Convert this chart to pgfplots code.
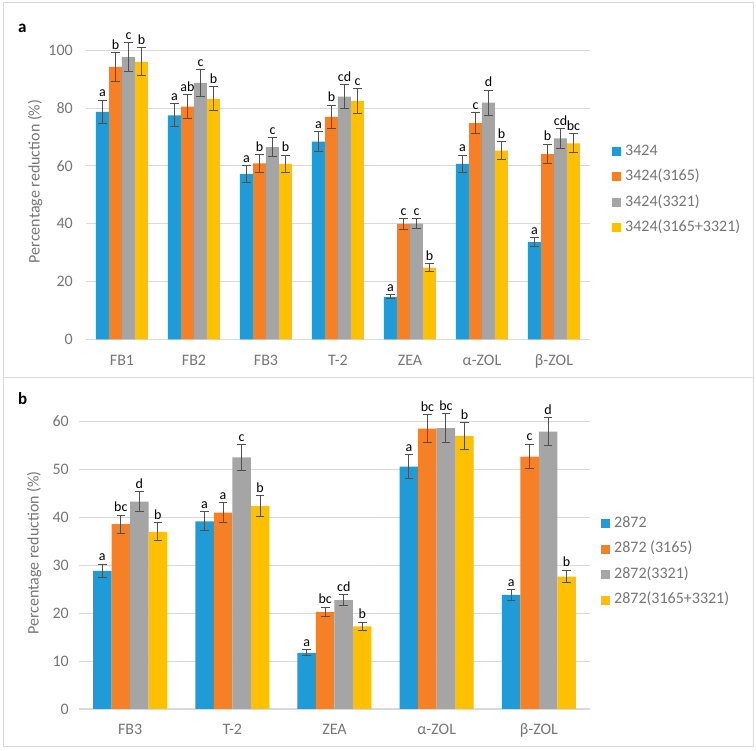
\documentclass[border=0pt]{standalone}
\usepackage{pgfplots}
\pgfplotsset{compat=1.18}
\usepackage{pgfplotstable}
\usepackage{fontspec}
\setmainfont{Carlito}
\definecolor{cblue}{RGB}{31,155,215}
\definecolor{corange}{RGB}{245,128,37}
\definecolor{cgray}{RGB}{165,165,165}
\definecolor{cyellow}{RGB}{255,192,0}
\definecolor{textgray}{RGB}{118,118,118}
\definecolor{gridgray}{RGB}{217,217,217}
\definecolor{errgray}{RGB}{80,80,80}

\pgfplotstableread{
x y e lab
0 78.7 4.0 a
1 77.5 4.0 a
2 57.2 3.0 a
3 68.4 3.4 a
4 14.7 0.7 a
5 60.7 3.0 a
6 33.6 1.6 a
}\aA
\pgfplotstableread{
x y e lab
0 94.3 5.0 b
1 80.5 4.1 ab
2 60.9 3.1 b
3 77.0 4.0 b
4 39.9 1.8 c
5 74.8 3.7 c
6 64.1 3.4 b
}\aB
\pgfplotstableread{
x y e lab
0 97.6 5.0 c
1 88.7 4.6 c
2 66.5 3.3 c
3 84.0 4.2 cd
4 40.0 1.8 c
5 81.9 4.3 d
6 69.5 3.5 cd
}\aC
\pgfplotstableread{
x y e lab
0 96.0 4.8 b
1 83.2 4.1 b
2 60.7 3.0 b
3 82.5 4.2 c
4 24.8 1.3 b
5 65.3 3.1 b
6 67.8 3.3 bc
}\aD

\pgfplotstableread{
x y e lab
0 28.8 1.4 a
1 39.1 2.0 a
2 11.7 0.6 a
3 50.5 2.5 a
4 23.75 1.1 a
}\bA
\pgfplotstableread{
x y e lab
0 38.5 1.9 bc
1 40.9 2.1 a
2 20.2 1.0 bc
3 58.4 2.9 bc
4 52.6 2.6 c
}\bB
\pgfplotstableread{
x y e lab
0 43.2 2.1 d
1 52.4 2.7 c
2 22.7 1.1 cd
3 58.5 3.0 bc
4 57.8 2.9 d
}\bC
\pgfplotstableread{
x y e lab
0 36.9 1.9 b
1 42.3 2.1 b
2 17.2 0.9 b
3 56.9 2.8 b
4 27.6 1.3 b
}\bD

\newcommand{\ls}{\hspace{3pt}}

\pgfplotsset{
  legsq/.style={legend image code/.code={\fill[##1,draw=none] (0pt,-4.5pt) rectangle (9pt,4.5pt);}},
  common/.style={
    scale only axis, clip=false,
    ybar=0pt,
    ymin=0,
    axis lines*=left,
    y axis line style={draw=none},
    x axis line style={draw=gridgray, line width=1pt},
    ymajorgrids,
    grid style={gridgray, line width=0.8pt},
    major tick length=0pt,
    tick label style={color=textgray, font=\fontsize{16}{19}\selectfont},
    /pgf/number format/assume math mode=true,
    xticklabel style={anchor=base, inner sep=0pt, yshift=-26pt},
    error bars/y dir=both,
    error bars/y explicit,
    error bars/error bar style={color=errgray, line width=1pt},
    error bars/error mark options={rotate=90, mark size=4.3pt, color=errgray, line width=1pt},
    nodes near coords,
    point meta=explicit symbolic,
    visualization depends on={\thisrow{e} \as \myerr},
    legend style={draw=none, fill=none, inner sep=0pt, font=\fontsize{16}{19}\selectfont, text=textgray, nodes={inner sep=1pt, text height=15.5pt, text depth=8pt}},
    legend cell align=left,
  }
}

\begin{document}
\begin{tikzpicture}[x=1pt,y=1pt]
\fill[white] (0,0) rectangle (756,751);
\draw[gridgray, line width=1pt] (3,748) rectangle (753,373);
\draw[gridgray, line width=1pt] (3,373) rectangle (753,4);
\node[anchor=base west, inner sep=0pt, font=\fontsize{17}{20}\selectfont\bfseries] at (18,718) {a};
\node[anchor=base west, inner sep=0pt, font=\fontsize{17}{20}\selectfont\bfseries] at (18,346) {b};

\begin{axis}[common,
  at={(86pt,411.7pt)}, anchor=south west,
  width=504pt, height=289pt,
  ymax=100, ytick={0,20,...,100},
  xmin=-0.5, xmax=6.5,
  xtick={0,...,6},
  xticklabels={FB1,FB2,FB3,T-2,ZEA,α-ZOL,β-ZOL},
  bar width=13pt,
  yticklabel style={anchor=east, inner sep=0pt, xshift=-13pt},
  ylabel={Percentage reduction (\%)},
  every axis y label/.style={at={(axis description cs:-0.101,0.546)}, rotate=90, anchor=center, color=textgray, font=\fontsize{16}{19}\selectfont},
  nodes near coords style={font=\fontsize{14}{16}\selectfont, color=black, anchor=south, inner sep=0pt, yshift=\myerr*2.89pt+3pt},
  legend style={at={(1.0437,0.518)}, anchor=west},
]
\addplot[fill=cblue, draw=none, legsq] table[x=x, y=y, y error=e, meta=lab] {\aA};
\addplot[fill=corange, draw=none, legsq] table[x=x, y=y, y error=e, meta=lab] {\aB};
\addplot[fill=cgray, draw=none, legsq] table[x=x, y=y, y error=e, meta=lab] {\aC};
\addplot[fill=cyellow, draw=none, legsq] table[x=x, y=y, y error=e, meta=lab] {\aD};
\legend{\ls 3424,\ls 3424(3165),\ls 3424(3321),\ls 3424(3165+3321)}
\end{axis}

\begin{axis}[common,
  at={(79pt,42pt)}, anchor=south west,
  width=511pt, height=288pt,
  ymax=60, ytick={0,10,...,60},
  xmin=-0.5, xmax=4.5,
  xtick={0,...,4},
  xticklabels={FB3,T-2,ZEA,α-ZOL,β-ZOL},
  bar width=18.5pt,
  yticklabel style={anchor=east, inner sep=0pt, xshift=-10pt},
  ylabel={Percentage reduction (\%)},
  every axis y label/.style={at={(axis description cs:-0.088,0.542)}, rotate=90, anchor=center, color=textgray, font=\fontsize{16}{19}\selectfont},
  nodes near coords style={font=\fontsize{14}{16}\selectfont, color=black, anchor=south, inner sep=0pt, yshift=\myerr*4.8pt+3pt},
  legend style={at={(1.0215,0.511)}, anchor=west},
]
\addplot[fill=cblue, draw=none, legsq] table[x=x, y=y, y error=e, meta=lab] {\bA};
\addplot[fill=corange, draw=none, legsq] table[x=x, y=y, y error=e, meta=lab] {\bB};
\addplot[fill=cgray, draw=none, legsq] table[x=x, y=y, y error=e, meta=lab] {\bC};
\addplot[fill=cyellow, draw=none, legsq] table[x=x, y=y, y error=e, meta=lab] {\bD};
\legend{\ls 2872,\ls 2872 (3165),\ls 2872(3321),\ls 2872(3165+3321)}
\end{axis}
\end{tikzpicture}
\end{document}
